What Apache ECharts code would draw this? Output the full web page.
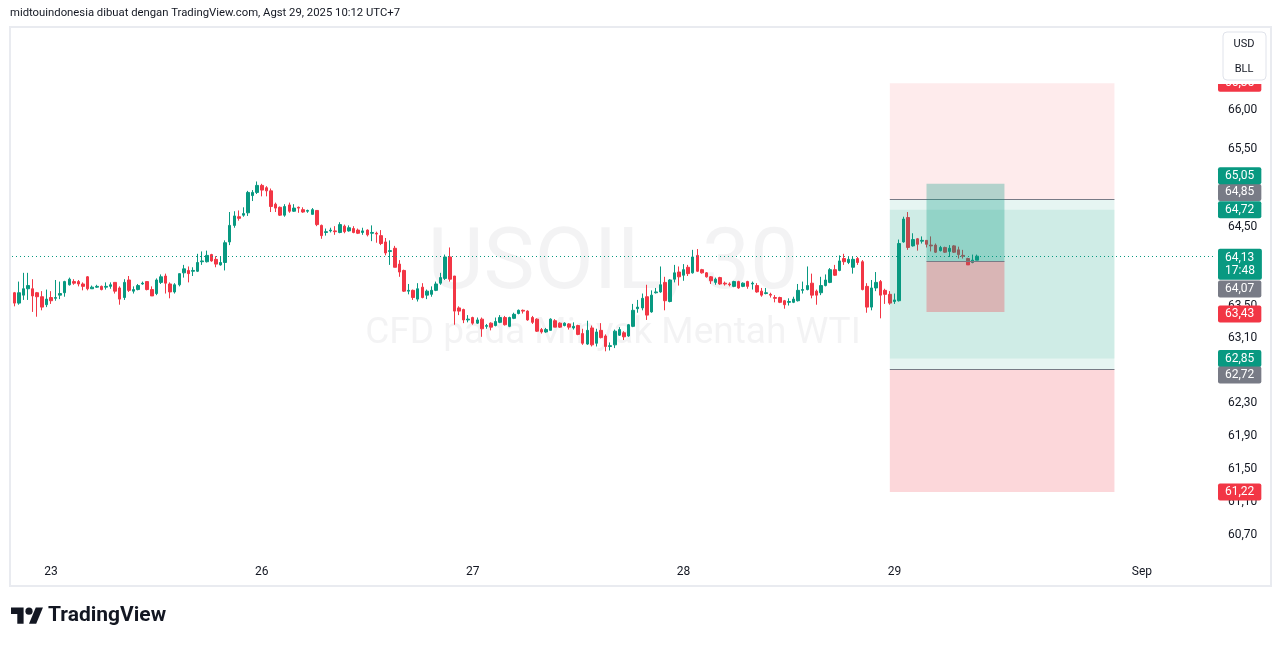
<!DOCTYPE html>
<html><head><meta charset="utf-8">
<script src="https://cdn.jsdelivr.net/npm/echarts@6/dist/echarts.min.js"></script>
<style>html,body{margin:0;padding:0;background:#fff}#c{width:1281px;height:646px}</style>
</head><body><div id="c"></div>
<script>
// ---- data (USOIL 30m) ----
const opens = [63.67,63.54,63.64,63.72,63.72,63.67,63.62,63.52,63.61,63.60,63.64,63.67,63.77,63.81,63.81,63.78,63.87,63.72,63.74,63.75,63.74,63.75,63.80,63.73,63.61,63.83,63.69,63.71,63.78,63.81,63.71,63.66,63.80,63.88,63.78,63.68,63.77,63.92,63.95,63.94,63.94,64.06,64.06,64.15,64.09,64.02,64.05,64.31,64.52,64.63,64.65,64.68,64.90,64.94,65.03,65.00,64.96,64.79,64.75,64.65,64.78,64.70,64.75,64.72,64.70,64.66,64.71,64.52,64.43,64.45,64.45,64.43,64.51,64.45,64.48,64.46,64.43,64.46,64.42,64.42,64.39,64.31,64.19,64.23,64.03,63.95,63.69,63.70,63.59,63.74,63.64,63.65,63.70,63.79,63.85,64.12,63.88,63.48,63.46,63.33,63.36,63.29,63.34,63.25,63.29,63.26,63.30,63.36,63.25,63.35,63.41,63.45,63.44,63.36,63.34,63.21,63.18,63.20,63.32,63.29,63.26,63.28,63.23,63.26,63.16,63.03,63.23,63.04,63.20,63.13,63.00,63.02,63.14,63.17,63.13,63.25,63.47,63.48,63.62,63.43,63.67,63.68,63.80,63.56,63.84,63.93,63.89,63.99,63.92,64.14,63.96,63.92,63.87,63.80,63.86,63.79,63.78,63.75,63.81,63.75,63.81,63.78,63.76,63.69,63.66,63.65,63.61,63.61,63.57,63.55,63.55,63.57,63.70,63.71,63.79,63.69,63.67,63.76,63.80,63.96,63.95,64.10,64.05,63.99,64.10,64.06,63.75,63.49,63.73,63.81,63.70,63.65,63.56,63.57,64.31,64.62,64.26,64.35,64.32,64.33,64.27,64.27,64.20,64.24,64.19,64.26,64.21,64.14,64.10,64.05,64.08];
const closes = [63.54,63.67,63.72,63.76,63.63,63.62,63.49,63.59,63.57,63.61,63.66,63.81,63.84,63.79,63.78,63.75,63.72,63.74,63.75,63.71,63.75,63.77,63.69,63.59,63.80,63.70,63.71,63.76,63.79,63.71,63.63,63.83,63.87,63.79,63.68,63.77,63.91,63.97,63.91,63.95,64.05,64.07,64.14,64.07,64.03,64.05,64.30,64.52,64.64,64.61,64.67,64.94,64.94,65.03,64.97,64.96,64.76,64.74,64.65,64.76,64.70,64.74,64.74,64.69,64.71,64.72,64.53,64.39,64.44,64.46,64.44,64.53,64.44,64.49,64.43,64.42,64.45,64.40,64.43,64.41,64.29,64.17,64.20,63.99,63.93,63.69,63.70,63.61,63.72,63.61,63.69,63.70,63.78,63.86,64.12,63.84,63.44,63.44,63.33,63.34,63.29,63.33,63.22,63.26,63.24,63.31,63.36,63.27,63.36,63.40,63.45,63.44,63.33,63.30,63.19,63.18,63.21,63.34,63.24,63.24,63.29,63.24,63.25,63.15,63.04,63.20,63.02,63.18,63.11,63.00,63.01,63.19,63.21,63.12,63.27,63.45,63.49,63.60,63.39,63.64,63.68,63.77,63.57,63.83,63.92,63.87,63.96,63.91,64.12,63.94,63.92,63.87,63.82,63.84,63.78,63.78,63.77,63.81,63.73,63.79,63.75,63.79,63.68,63.64,63.67,63.64,63.60,63.55,63.52,63.56,63.59,63.70,63.71,63.76,63.64,63.64,63.76,63.83,63.96,63.89,64.07,64.06,64.09,64.09,64.05,63.71,63.49,63.73,63.80,63.64,63.65,63.54,63.58,64.29,64.60,64.24,64.34,64.28,64.33,64.28,64.26,64.18,64.24,64.18,64.23,64.18,64.15,64.13,64.02,64.08,64.13];
const lows = [63.50,63.52,63.58,63.58,63.43,63.37,63.45,63.49,63.53,63.57,63.59,63.62,63.76,63.77,63.75,63.70,63.70,63.72,63.73,63.70,63.71,63.72,63.66,63.52,63.58,63.68,63.66,63.70,63.77,63.70,63.63,63.64,63.78,63.66,63.60,63.66,63.75,63.86,63.80,63.88,63.93,64.02,64.05,64.06,63.99,64.01,63.95,64.27,64.49,64.58,64.63,64.64,64.83,64.92,64.89,64.89,64.69,64.69,64.64,64.63,64.68,64.69,64.68,64.68,64.68,64.66,64.51,64.35,64.39,64.43,64.40,64.42,64.42,64.44,64.42,64.41,64.40,64.38,64.32,64.30,64.27,64.14,64.02,63.99,63.87,63.68,63.65,63.58,63.56,63.60,63.59,63.62,63.69,63.77,63.83,63.81,63.27,63.39,63.29,63.30,63.27,63.28,63.12,63.22,63.20,63.25,63.29,63.26,63.24,63.34,63.40,63.41,63.32,63.28,63.18,63.16,63.17,63.20,63.24,63.23,63.25,63.21,63.21,63.14,63.02,63.02,63.00,63.00,63.10,62.94,62.95,62.98,63.13,63.08,63.12,63.24,63.42,63.45,63.33,63.42,63.66,63.67,63.45,63.55,63.80,63.76,63.82,63.88,63.91,63.93,63.91,63.86,63.78,63.77,63.77,63.76,63.75,63.74,63.72,63.74,63.72,63.71,63.67,63.62,63.65,63.61,63.55,63.54,63.47,63.51,63.54,63.56,63.66,63.70,63.60,63.52,63.64,63.75,63.79,63.88,63.94,64.02,64.03,63.91,64.02,63.70,63.42,63.45,63.69,63.35,63.53,63.52,63.53,63.56,64.30,64.21,64.25,64.20,64.29,64.24,64.19,64.17,64.19,64.17,64.12,64.17,64.10,64.10,64.02,64.04,64.08];
const highs = [63.68,63.81,63.92,63.92,63.84,63.68,63.69,63.71,63.69,63.83,63.81,63.82,63.86,63.84,63.83,63.80,63.88,63.76,63.77,63.76,63.80,63.80,63.80,63.75,63.84,63.88,63.75,63.78,63.81,63.81,63.75,63.85,63.90,63.91,63.80,63.79,63.91,64.02,64.00,63.99,64.16,64.19,64.20,64.16,64.13,64.13,64.33,64.69,64.70,64.71,64.75,64.96,64.97,65.08,65.05,65.02,64.99,64.81,64.76,64.79,64.81,64.79,64.76,64.75,64.72,64.74,64.71,64.53,64.48,64.49,64.51,64.56,64.53,64.52,64.51,64.48,64.49,64.47,64.52,64.44,64.46,64.36,64.33,64.26,64.08,63.96,63.78,63.71,63.79,63.79,63.71,63.75,63.81,63.92,64.15,64.24,63.88,63.50,63.47,63.39,63.37,63.36,63.36,63.28,63.30,63.36,63.39,63.38,63.37,63.42,63.46,63.46,63.45,63.38,63.35,63.23,63.23,63.35,63.34,63.30,63.30,63.29,63.30,63.27,63.22,63.32,63.26,63.22,63.29,63.15,63.05,63.21,63.24,63.19,63.28,63.53,63.58,63.66,63.77,63.70,63.73,64.00,63.87,63.84,64.02,64.00,64.03,64.02,64.21,64.22,63.97,63.93,63.88,63.86,63.87,63.81,63.80,63.82,63.82,63.80,63.82,63.81,63.79,63.73,63.73,63.67,63.64,63.62,63.58,63.60,63.62,63.78,63.81,64.00,63.91,63.71,63.87,63.90,63.98,64.02,64.14,64.16,64.12,64.12,64.12,64.08,63.79,63.83,63.93,63.83,63.72,63.69,63.66,64.34,64.63,64.69,64.42,64.36,64.38,64.33,64.38,64.29,64.26,64.25,64.27,64.27,64.25,64.21,64.11,64.15,64.15];

const totalBars = 262;                       // bars shown on the time scale (incl. future space)
const dayLabelIndex = [8, 54, 100, 146, 192, 246];
const dayLabels = ['23', '26', '27', '28', '29', 'Sep'];
const priceTicks = [66.00, 65.50, 65.00, 64.50, 64.00, 63.50, 63.10, 62.70, 62.30, 61.90, 61.50, 61.10, 60.70];
const priceMin = 60.43, priceMax = 67.09;
const lastPrice = 64.13;
const countdown = '17:48';
// position tools: bar indices and price levels
const toolStart = [191, 191, 199];
const toolEnd = [240, 240, 216];
const toolEntry = [64.85, 62.72, 64.07];
const toolTarget = [62.85, 64.72, 65.05];
const toolStop = [66.35, 61.22, 63.43];

// ---- styling ----
const UP = '#089981', DOWN = '#f23645', GREY = '#787b86', TXT = '#131722';
const FONT = 'Roboto, "Liberation Sans", sans-serif';
const toolFill = [
  {profit: 'rgba(8,153,129,0.10)', loss: 'rgba(242,54,69,0.10)'},
  {profit: 'rgba(8,153,129,0.10)', loss: 'rgba(242,54,69,0.20)'},
  {profit: 'rgba(8,153,129,0.30)', loss: 'rgba(242,54,69,0.30)'}
];
// vertical nudges of axis price tags (TradingView pushes overlapping tags apart)
const tagNudge = {'65.05': -8, '64.85': -7, '64.07': 28, '63.43': 2, '62.72': 6};
const fmt = p => p.toFixed(2).replace('.', ',');

const cats = Array.from({length: totalBars}, (_, i) => String(i));
const labelAt = {};
dayLabelIndex.forEach((idx, k) => { labelAt[idx] = dayLabels[k]; });

const candleData = opens.map((o, i) => [Math.log(o), Math.log(closes[i]), Math.log(lows[i]), Math.log(highs[i])]);

const tags = [];
toolStart.forEach((_, i) => {
  tags.push({p: toolStop[i], c: DOWN});
  tags.push({p: toolEntry[i], c: GREY});
  tags.push({p: toolTarget[i], c: UP});
});
const markData = tags.map(t => ({
  yAxis: Math.log(t.p),
  lineStyle: {color: 'rgba(0,0,0,0)', width: 0},
  label: {
    show: true, position: 'end', distance: 5,
    formatter: fmt(t.p), backgroundColor: t.c, color: '#fff',
    fontFamily: FONT, fontSize: 12, padding: [3, 7, 2, 7], borderRadius: 2,
    offset: [0, tagNudge[t.p.toFixed(2)] || 0]
  }
}));
markData.push({
  yAxis: Math.log(lastPrice),
  lineStyle: {type: [1, 3], color: UP, width: 1},
  label: {
    show: true, position: 'end', distance: 5,
    formatter: fmt(lastPrice) + '\n' + countdown, backgroundColor: UP, color: '#fff',
    fontFamily: FONT, fontSize: 12, lineHeight: 13, padding: [3, 7, 2, 7], borderRadius: 2,
    offset: [0, 8]
  }
});

const toolData = toolStart.map((s, i) => [s, toolEnd[i], Math.log(toolEntry[i]), Math.log(toolTarget[i]), Math.log(toolStop[i])]);

// TradingView logo outline (36x28 design units) scaled into place
const LS = 0.9, LX = 11, LY = 604;
const lp = pts => pts.map(p => [LX + p[0] * LS, LY + p[1] * LS]);

const chart = echarts.init(document.getElementById('c'), null, {renderer: 'canvas'});
chart.setOption({
  animation: false,
  backgroundColor: '#ffffff',
  grid: {left: 12, right: 68, top: 27, bottom: 88, containLabel: false},
  xAxis: {
    type: 'category', data: cats, boundaryGap: true,
    axisLine: {show: false}, axisTick: {show: false}, splitLine: {show: false},
    axisLabel: {
      interval: (idx) => labelAt[idx] !== undefined,
      formatter: (v, idx) => labelAt[idx] || '',
      color: TXT, fontSize: 12, fontFamily: FONT, margin: 8
    }
  },
  yAxis: {
    type: 'value', position: 'right', scale: true,
    min: Math.log(priceMin), max: Math.log(priceMax),
    axisLine: {show: false}, axisTick: {show: false}, splitLine: {show: false},
    axisLabel: {
      customValues: priceTicks.map(Math.log),
      formatter: v => fmt(Math.exp(v)),
      color: TXT, fontSize: 12, fontFamily: FONT, margin: 15
    }
  },
  graphic: [
    {type: 'rect', z: -1, shape: {x: 10, y: 27, width: 1261, height: 559},
     style: {fill: 'none', stroke: '#e9ebf0', lineWidth: 2}},
    {type: 'text', x: 10, y: 13, style: {text: 'midtouindonesia dibuat dengan TradingView.com, Agst 29, 2025 10:12 UTC+7',
      fill: TXT, font: '11.3px ' + FONT, verticalAlign: 'middle'}},
    {type: 'text', z: -1, x: 613, y: 266, style: {text: 'USOIL, 30', fill: 'rgba(120,123,134,0.09)',
      font: '86px ' + FONT, align: 'center', verticalAlign: 'middle'}},
    {type: 'text', z: -1, x: 613, y: 334, style: {text: 'CFD pada Minyak Mentah WTI', fill: 'rgba(120,123,134,0.09)',
      font: '37px ' + FONT, align: 'center', verticalAlign: 'middle'}},
    {type: 'rect', z: 100, shape: {x: 1215, y: 29, width: 54, height: 55}, style: {fill: '#ffffff'}},
    {type: 'rect', z: 101, shape: {x: 1223, y: 32, width: 43, height: 48, r: 4},
     style: {fill: '#ffffff', stroke: '#e0e3eb', lineWidth: 1}},
    {type: 'text', z: 102, x: 1244, y: 44, style: {text: 'USD', fill: TXT, font: '11px ' + FONT, align: 'center', verticalAlign: 'middle'}},
    {type: 'text', z: 102, x: 1244, y: 69, style: {text: 'BLL', fill: TXT, font: '11px ' + FONT, align: 'center', verticalAlign: 'middle'}},
    {type: 'polygon', shape: {points: lp([[0, 4], [14, 4], [14, 22], [7, 22], [7, 11], [0, 11]])}, style: {fill: TXT}},
    {type: 'polygon', shape: {points: lp([[20, 22], [27.5, 4], [35.5, 4], [28, 22]])}, style: {fill: TXT}},
    {type: 'circle', shape: {cx: LX + 20 * LS, cy: LY + 8 * LS, r: 4 * LS}, style: {fill: TXT}},
    {type: 'text', x: 48, y: 616, style: {text: 'TradingView', fill: TXT, font: 'bold 21px ' + FONT, verticalAlign: 'middle'}}
  ],
  series: [
    {
      type: 'candlestick', z: 2, data: candleData, barWidth: 3,
      itemStyle: {color: UP, color0: DOWN, borderColor: UP, borderColor0: DOWN, borderWidth: 1},
      markLine: {silent: true, symbol: ['none', 'none'], animation: false, precision: 10, data: markData}
    },
    {
      type: 'custom', z: 3, silent: true,
      data: toolData,
      encode: {x: [0, 1], y: [2, 3, 4]},
      renderItem: (params, api) => {
        const st = toolFill[params.dataIndex];
        const a = api.coord([api.value(0), api.value(2)]);
        const b = api.coord([api.value(1), api.value(2)]);
        const yT = api.coord([api.value(0), api.value(3)])[1];
        const yS = api.coord([api.value(0), api.value(4)])[1];
        const x0 = a[0], x1 = b[0], yE = a[1];
        return {type: 'group', children: [
          {type: 'rect', shape: {x: x0, y: Math.min(yE, yT), width: x1 - x0, height: Math.abs(yT - yE)}, style: {fill: st.profit}},
          {type: 'rect', shape: {x: x0, y: Math.min(yE, yS), width: x1 - x0, height: Math.abs(yS - yE)}, style: {fill: st.loss}},
          {type: 'line', shape: {x1: x0, y1: Math.round(yE) + 0.5, x2: x1, y2: Math.round(yE) + 0.5}, style: {stroke: GREY, lineWidth: 1}}
        ]};
      }
    }
  ]
});
</script></body></html>
